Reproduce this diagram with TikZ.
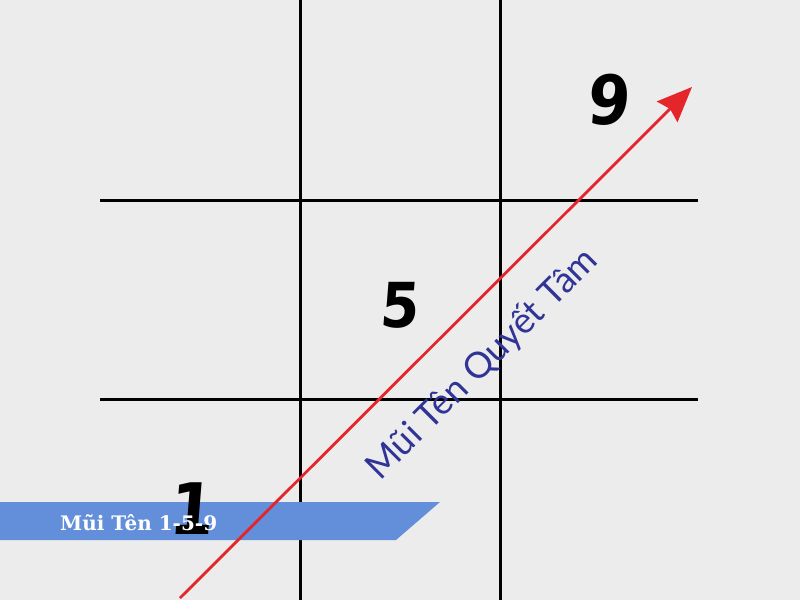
\documentclass[tikz,border=0pt]{standalone}
\usepackage{fontspec}
\setmainfont{DejaVu Serif}
\newfontfamily\numfont{DejaVu Sans Condensed}
\newfontfamily\labfont{Lato}
\usetikzlibrary{arrows.meta}
\definecolor{paper}{RGB}{236,236,236}
\definecolor{bannerblue}{RGB}{98,142,218}
\definecolor{arrowred}{RGB}{228,38,42}
\definecolor{labblue}{RGB}{48,52,150}
\tikzset{
  gridline/.style={line width=3pt, black},
  digit/.style={inner sep=0pt, font=\numfont\bfseries\fontsize{#1}{#1}\selectfont, xslant=0.08},
}
\begin{document}
\begin{tikzpicture}[x=1pt,y=-1pt]
\useasboundingbox (0,0) rectangle (800,600);
\fill[paper] (0,0) rectangle (800,600);
% grid
\draw[gridline] (300,0) -- (300,600);
\draw[gridline] (500,0) -- (500,600);
\draw[gridline] (100,200) -- (698,200);
\draw[gridline] (100,399) -- (698,399);
% banner
\fill[bannerblue] (0,502) -- (440,502) -- (396,540) -- (0,540) -- cycle;
% digits
\node[digit=68] (n9) at (610,100) {9};
\node[digit=62] (n5) at (401,305) {5};
\node[digit=71] (n1) at (193,509) {1};
% banner text
\node[anchor=base west, inner sep=0pt, text=white, font=\bfseries\fontsize{20}{20}\selectfont] (title) at (60,530) {Mũi Tên 1-5-9};
% arrow
\coordinate (as) at (180,598);
\coordinate (ae) at (692,87);
\draw[arrowred, line width=2.8pt, -{Stealth[length=35pt,width=29pt,inset=4pt]}] (as) -- (ae);
% rotated label
\node[rotate=45, text=labblue, inner sep=0pt, font=\labfont\fontsize{36}{36}\selectfont] (lab) at (482,364) {Mũi Tên Quyết Tâm};
\end{tikzpicture}
\end{document}
